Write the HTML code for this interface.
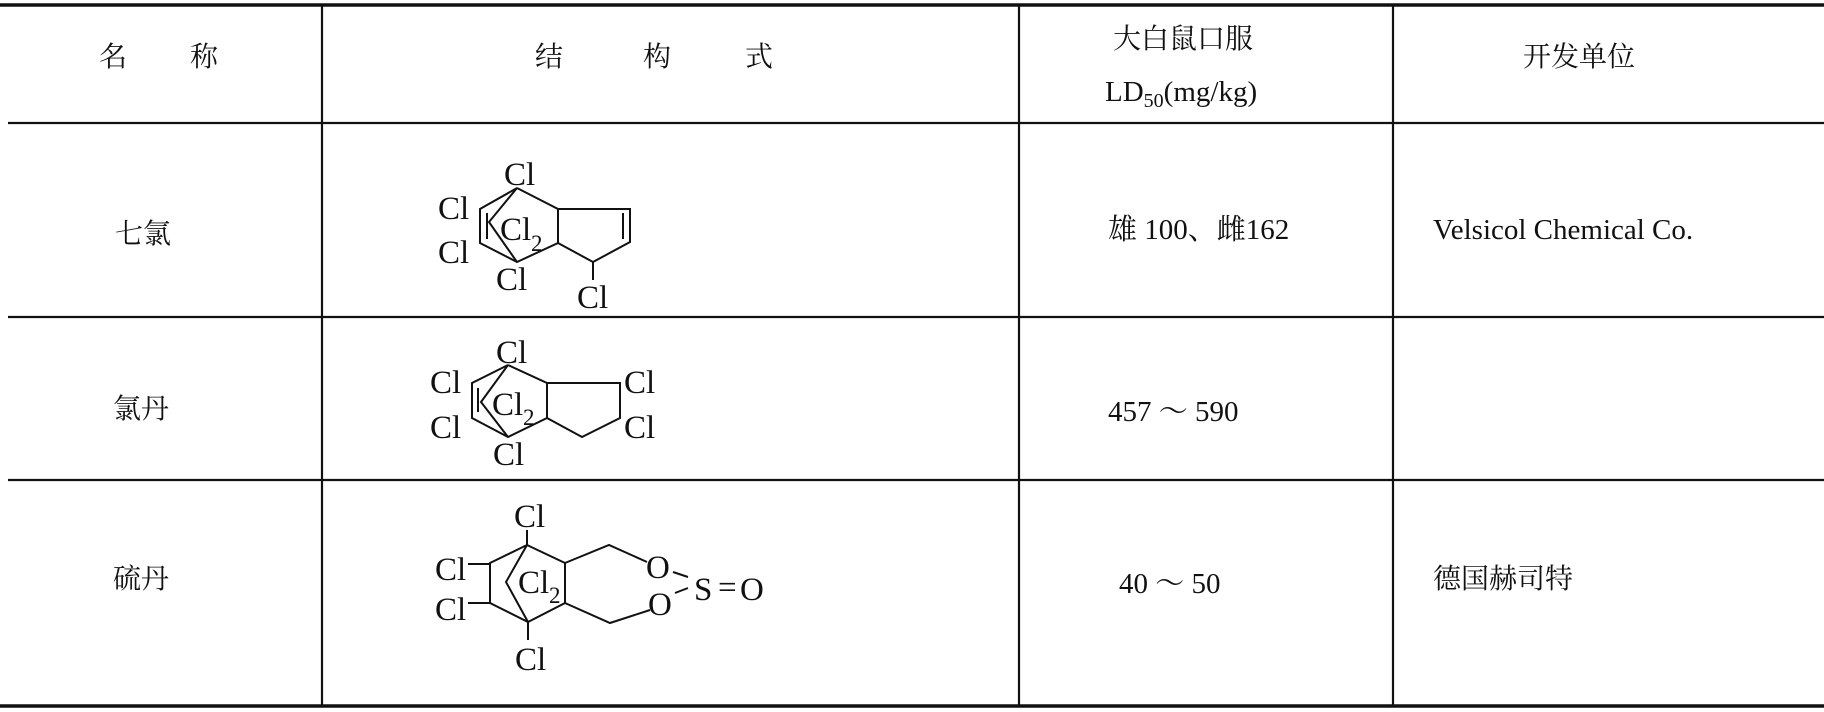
<!DOCTYPE html>
<html><head><meta charset="utf-8"><style>
html,body{margin:0;padding:0;background:#fff;}
svg{display:block;}
text{fill:#111;}
.c{font-family:"Liberation Serif","Noto Serif CJK SC",serif;font-size:28px;}
.l{font-family:"Liberation Serif",serif;font-size:33px;}
.s{font-family:"Liberation Serif",serif;font-size:23px;}
.n{font-family:"Liberation Serif","Noto Serif CJK SC",serif;font-size:29px;}
</style></head><body>
<svg width="1824" height="712" viewBox="0 0 1824 712" xmlns="http://www.w3.org/2000/svg">
<g stroke="#111" fill="none">
<line x1="0" y1="5" x2="1824" y2="5" stroke-width="3.5"/>
<line x1="8" y1="123" x2="1824" y2="123" stroke-width="2.2"/>
<line x1="8" y1="317" x2="1824" y2="317" stroke-width="2.2"/>
<line x1="8" y1="480" x2="1824" y2="480" stroke-width="2.2"/>
<line x1="0" y1="706" x2="1824" y2="706" stroke-width="3.5"/>
<line x1="322" y1="5" x2="322" y2="706" stroke-width="2.2"/>
<line x1="1019" y1="5" x2="1019" y2="706" stroke-width="2.2"/>
<line x1="1393" y1="5" x2="1393" y2="706" stroke-width="2.2"/>
</g>
<text class="c" x="99" y="66">名</text><text class="c" x="190" y="66">称</text>
<text class="c" x="535" y="66">结</text><text class="c" x="643" y="66">构</text><text class="c" x="745" y="66">式</text>
<text class="c" x="1113" y="48">大白鼠口服</text>
<text class="n" x="1105" y="101">LD<tspan font-size="20" dy="6">50</tspan><tspan dy="-6">(mg/kg)</tspan></text>
<text class="c" x="1523" y="66">开发单位</text>
<text class="c" x="115" y="243">七氯</text>
<text class="c" x="113" y="418">氯丹</text>
<text class="c" x="113" y="588">硫丹</text>
<text class="n" x="1108" y="239">雄 100、雌162</text>
<text class="n" x="1108" y="421">457 ～ 590</text>
<text class="n" x="1119" y="593">40 ～ 50</text>
<text class="n" x="1433" y="239">Velsicol Chemical Co.</text>
<text class="c" x="1433" y="588">德国赫司特</text>
<g stroke="#111" stroke-width="2" fill="none">
<polyline points="517,188 480,209 480,243 517,262 558,243 558,209 517,188"/>
<line x1="487" y1="213" x2="487" y2="239"/>
<polyline points="517,188 489,222 517,262"/>
<polyline points="558,209 630,209 630,242 593,262 558,243"/>
<line x1="623" y1="213" x2="623" y2="239"/>
<line x1="593" y1="262" x2="593" y2="280"/>
</g>
<text class="l" x="504" y="185">Cl</text>
<text class="l" x="438" y="219">Cl</text>
<text class="l" x="438" y="263">Cl</text>
<text class="l" x="496" y="290">Cl</text>
<text class="l" x="577" y="308">Cl</text>
<text class="l" x="500" y="240">Cl</text><text class="s" x="531" y="251">2</text>
<g stroke="#111" stroke-width="2" fill="none">
<polyline points="508,365 472,383 472,418 508,437 547,418 547,383 508,365"/>
<line x1="478" y1="388" x2="478" y2="412"/>
<polyline points="508,365 481,402 508,437"/>
<polyline points="547,383 620,383 620,418 582,437 547,418"/>
</g>
<text class="l" x="496" y="363">Cl</text>
<text class="l" x="430" y="393">Cl</text>
<text class="l" x="430" y="438">Cl</text>
<text class="l" x="493" y="465">Cl</text>
<text class="l" x="624" y="393">Cl</text>
<text class="l" x="624" y="438">Cl</text>
<text class="l" x="492" y="415">Cl</text><text class="s" x="523" y="425">2</text>
<g stroke="#111" stroke-width="2" fill="none">
<polyline points="527,545 490,563 490,603 528,622 565,603 565,563 527,545"/>
<polyline points="527,545 506,582 528,622"/>
<line x1="527" y1="530" x2="527" y2="545"/>
<line x1="528" y1="622" x2="528" y2="640"/>
<line x1="468" y1="564" x2="490" y2="564"/>
<line x1="468" y1="603" x2="490" y2="603"/>
<polyline points="565,563 609,545 647,562"/>
<polyline points="565,603 610,623 650,610"/>
<line x1="673" y1="572" x2="688" y2="577"/>
<line x1="675" y1="593" x2="688" y2="588"/>
</g>
<text class="l" x="514" y="527">Cl</text>
<text class="l" x="435" y="580">Cl</text>
<text class="l" x="435" y="620">Cl</text>
<text class="l" x="515" y="670">Cl</text>
<text class="l" x="518" y="593">Cl</text><text class="s" x="549" y="603">2</text>
<text class="l" x="646" y="578">O</text>
<text class="l" x="648" y="615">O</text>
<text class="l" x="694" y="600">S</text>
<text class="l" x="718" y="598">=</text>
<text class="l" x="740" y="600">O</text>
</svg>
</body></html>
